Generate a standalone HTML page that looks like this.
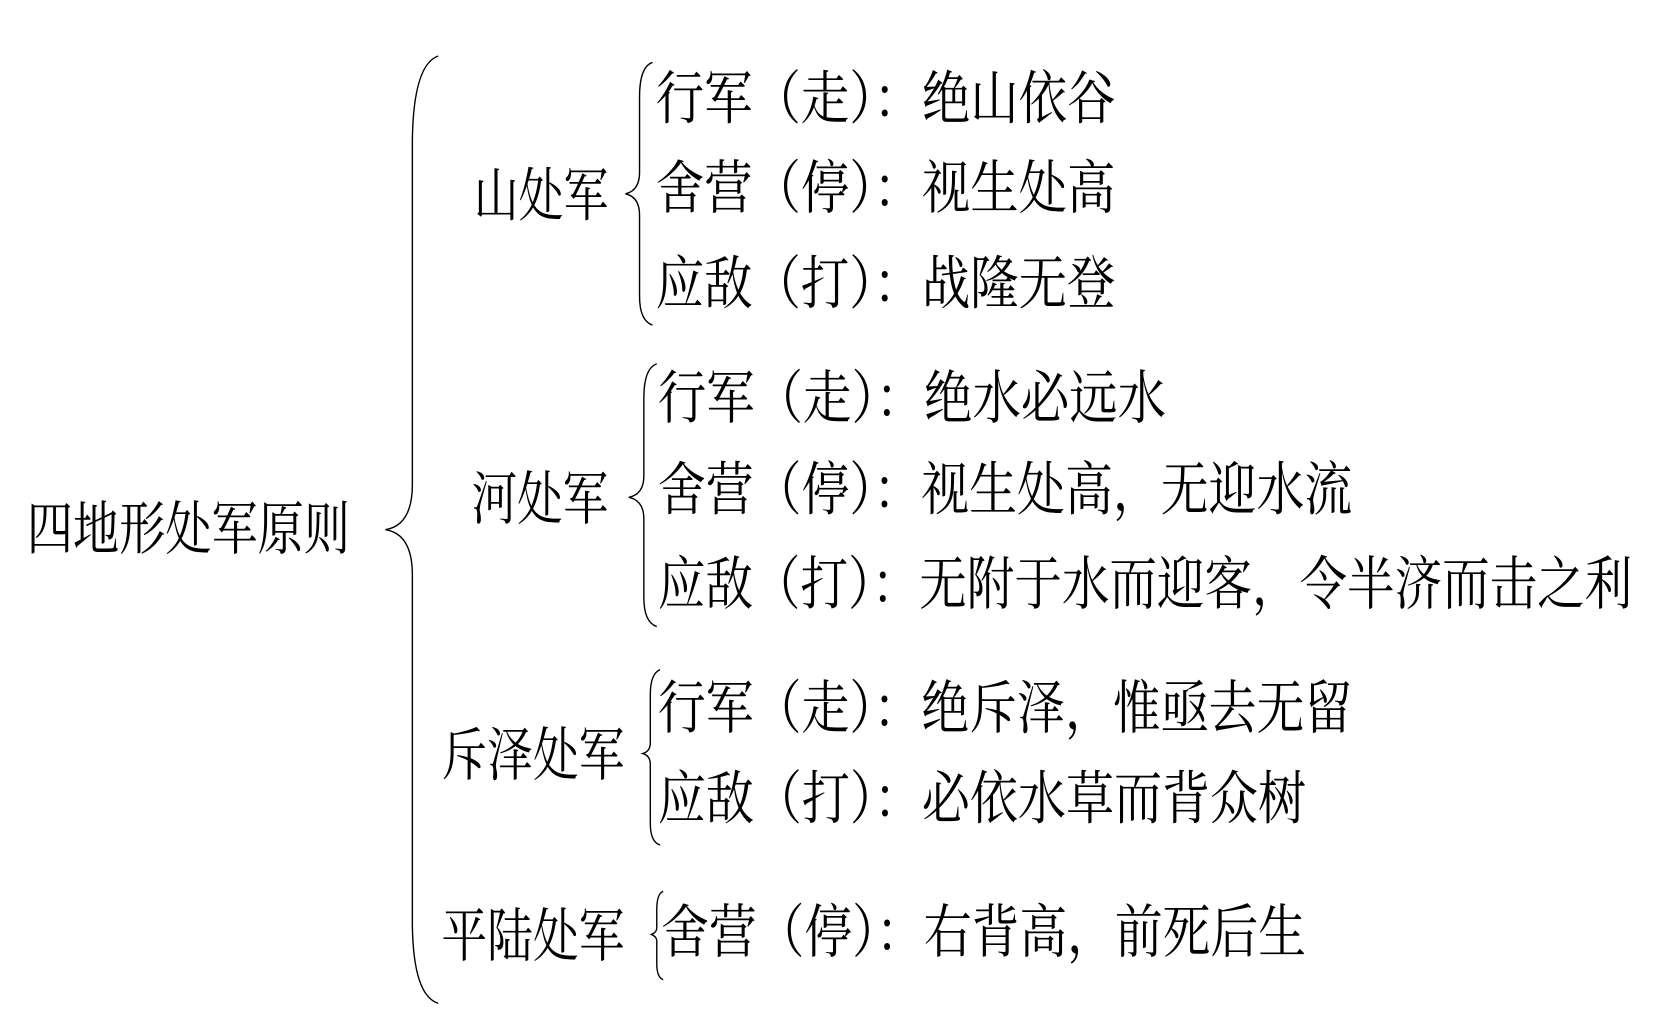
<!DOCTYPE html>
<html><head><meta charset="utf-8"><style>html,body{margin:0;padding:0;background:#fff}svg{display:block}</style></head>
<body>
<svg width="1671" height="1013" viewBox="0 0 1552 941" preserveAspectRatio="none" xmlns="http://www.w3.org/2000/svg">
<g fill="none" stroke="#000" stroke-width="1.3">
<path d="M407,52 Q384,60 383,130 L383,450 Q383,488 358,492 Q383,496 383,534 L383,860 Q384,925 407,932"/>
<path d="M606,58 Q594,62 594,90 L594,160 Q594,177 581,180 Q594,183 594,200 L594,275 Q594,298 606,302"/>
<path d="M610,338 Q598,342 598,370 L598,442 Q598,459 584,462 Q598,465 598,482 L598,555 Q598,578 610,582"/>
<path d="M613,622 Q604,626 604,645 L604,690 Q604,698 597,700 Q604,702 604,710 L604,765 Q604,782 613,785"/>
<path d="M616,828 Q610,830 610,845 L610,862 Q610,866 605,868 Q610,870 610,874 L610,895 Q610,908 616,910"/>
</g>
<g font-family="'Liberation Serif','Noto Serif CJK SC',serif" font-size="54" fill="#000" dominant-baseline="central">
<text x="25" y="492" textLength="300" lengthAdjust="spacingAndGlyphs">四地形处军原则</text>
<text x="440" y="182" textLength="125" lengthAdjust="spacingAndGlyphs">山处军</text>
<text x="438" y="464" textLength="127" lengthAdjust="spacingAndGlyphs">河处军</text>
<text x="410" y="702" textLength="170" lengthAdjust="spacingAndGlyphs">斥泽处军</text>
<text x="410" y="870" textLength="170" lengthAdjust="spacingAndGlyphs">平陆处军</text>
<text x="609" y="92" textLength="427" lengthAdjust="spacingAndGlyphs">行军（走）：绝山依谷</text>
<text x="609" y="175" textLength="427" lengthAdjust="spacingAndGlyphs">舍营（停）：视生处高</text>
<text x="609" y="264" textLength="427" lengthAdjust="spacingAndGlyphs">应敌（打）：战隆无登</text>
<text x="611" y="370" textLength="472" lengthAdjust="spacingAndGlyphs">行军（走）：绝水必远水</text>
<text x="611" y="455" textLength="645" lengthAdjust="spacingAndGlyphs">舍营（停）：视生处高，无迎水流</text>
<text x="611" y="543" textLength="905" lengthAdjust="spacingAndGlyphs">应敌（打）：无附于水而迎客，令半济而击之利</text>
<text x="611" y="658" textLength="645" lengthAdjust="spacingAndGlyphs">行军（走）：绝斥泽，惟亟去无留</text>
<text x="611" y="742" textLength="602" lengthAdjust="spacingAndGlyphs">应敌（打）：必依水草而背众树</text>
<text x="614" y="866" textLength="599" lengthAdjust="spacingAndGlyphs">舍营（停）：右背高，前死后生</text>
</g>
</svg>
</body></html>
